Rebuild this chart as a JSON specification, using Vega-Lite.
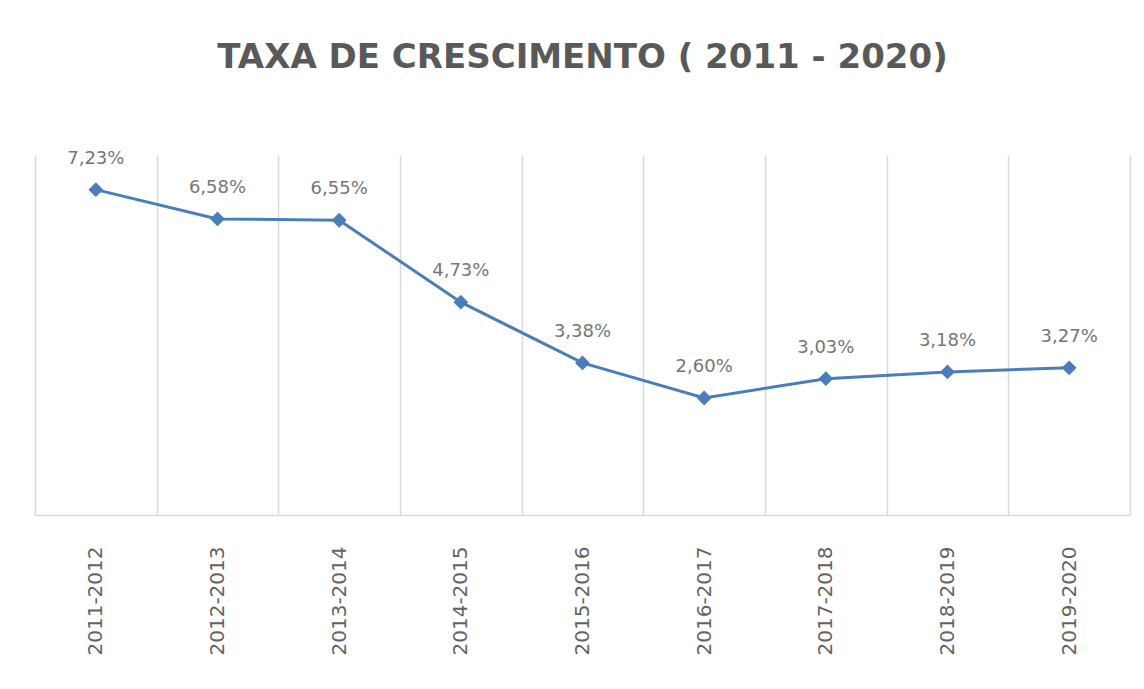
{
  "$schema": "https://vega.github.io/schema/vega-lite/v6.json",
  "width": 1095,
  "height": 360,
  "padding": {"left": 25, "top": 40, "right": 14, "bottom": 20},
  "background": "white",
  "config": {
    "locale": {"number": {"decimal": ",", "thousands": ".", "grouping": [3], "currency": ["R$", ""]}},
    "view": {"stroke": null},
    "font": "DejaVu Sans"
  },
  "title": {
    "text": "TAXA DE CRESCIMENTO ( 2011 - 2020)",
    "fontSize": 34,
    "fontWeight": "bold",
    "color": "#595959",
    "font": "DejaVu Sans",
    "anchor": "middle",
    "offset": 75
  },
  "data": {
    "values": [
      {"periodo": "2011-2012", "taxa": 0.0723},
      {"periodo": "2012-2013", "taxa": 0.0658},
      {"periodo": "2013-2014", "taxa": 0.0655},
      {"periodo": "2014-2015", "taxa": 0.0473},
      {"periodo": "2015-2016", "taxa": 0.0338},
      {"periodo": "2016-2017", "taxa": 0.0260},
      {"periodo": "2017-2018", "taxa": 0.0303},
      {"periodo": "2018-2019", "taxa": 0.0318},
      {"periodo": "2019-2020", "taxa": 0.0327}
    ]
  },
  "encoding": {
    "x": {
      "field": "periodo",
      "type": "nominal",
      "sort": null,
      "scale": {"paddingInner": 0, "paddingOuter": 0},
      "axis": {
        "title": null,
        "labelAngle": -90,
        "labelFontSize": 20,
        "labelColor": "#636363",
        "labelFont": "DejaVu Sans",
        "labelPadding": 31,
        "ticks": false,
        "tickBand": "extent",
        "grid": true,
        "gridColor": "#d9d9d9",
        "gridWidth": 1.5,
        "domainColor": "#d9d9d9",
        "domainWidth": 1.5
      }
    },
    "y": {
      "field": "taxa",
      "type": "quantitative",
      "scale": {"domain": [0, 0.08]},
      "axis": null
    }
  },
  "layer": [
    {"mark": {"type": "line", "color": "#4A7EBB", "strokeWidth": 3}},
    {"mark": {"type": "point", "shape": "diamond", "filled": true, "size": 220, "color": "#4A7EBB", "opacity": 1}},
    {
      "mark": {"type": "text", "dy": -31, "fontSize": 18, "color": "#767676"},
      "encoding": {"text": {"field": "taxa", "type": "quantitative", "format": ".2%"}}
    }
  ]
}
